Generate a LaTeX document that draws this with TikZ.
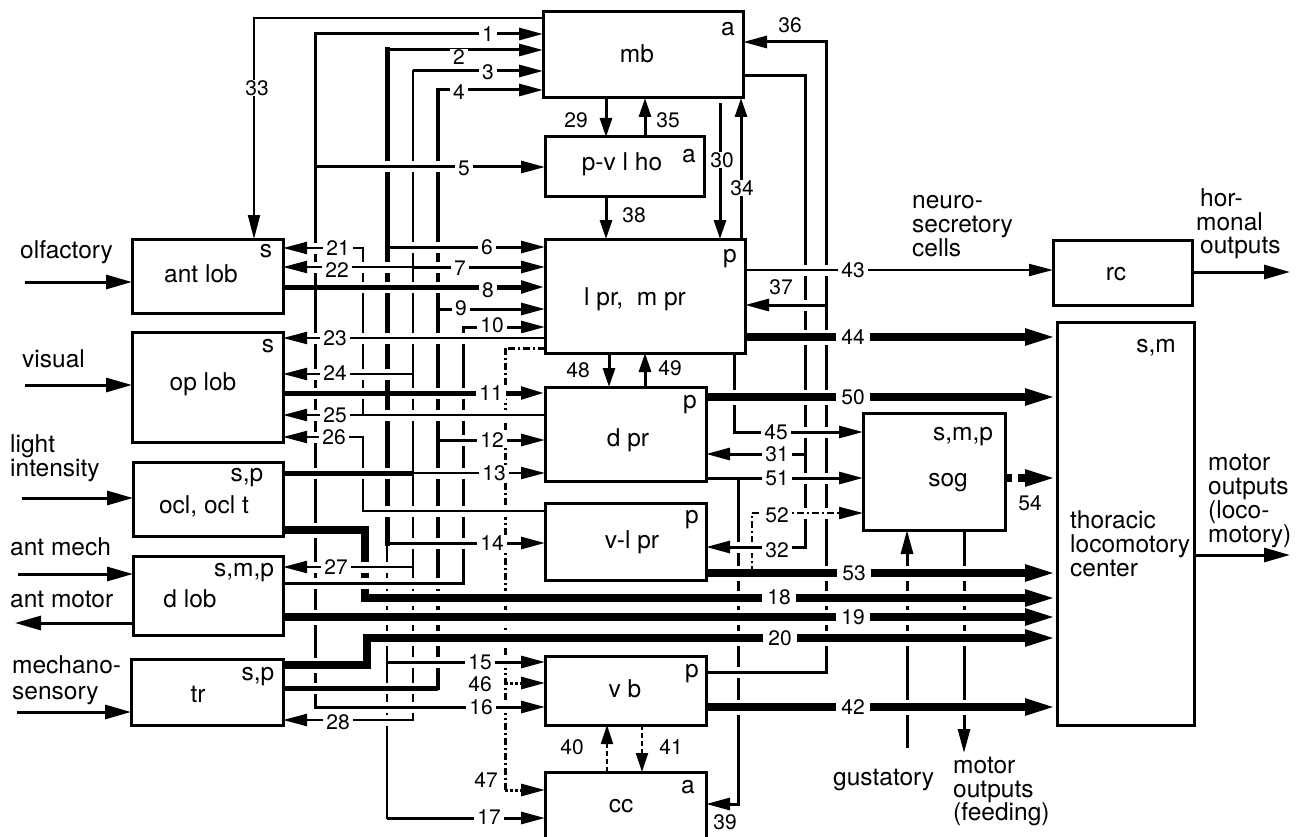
\documentclass[tikz,border=0pt]{standalone}
\usepackage{fontspec}
\setmainfont{TeX Gyre Heros}
\usetikzlibrary{arrows.meta}
\newcommand\txtf{\fontsize{24.5}{24}\selectfont}
\newcommand\numf{\fontsize{21}{21}\selectfont}
\newcommand\hl[3]{%
  \draw[white,line width=11pt,shorten <=6pt,shorten >=6pt] #2 -- #3;
  \draw[#1] #2 -- #3;}
\newcommand\hk[3]{%
  \draw[white,line width=15pt,shorten <=6pt,shorten >=6pt] #2 -- #3;
  \draw[#1] #2 -- #3;}
\begin{document}
\begin{tikzpicture}[x=1pt,y=-1pt,
 box/.style={draw,line width=3pt,anchor=north west,inner sep=0pt,outer sep=0pt},
 lt/.style={line width=2pt},
 lq/.style={line width=2.5pt},
 ln/.style={line width=3pt},
 lb/.style={line width=4pt},
 lm/.style={line width=5pt},
 lk/.style={line width=7.5pt},
 vv/.style={line cap=rect},
 ar/.style={-{Triangle[length=24pt,width=12pt]}},
 ai/.style={-{Triangle[length=26pt,width=14pt]}},
 as/.style={-{Triangle[length=19pt,width=12pt]}},
 ak/.style={-{Triangle[length=32pt,width=15pt]}},
 lab/.style={font=\numf,fill=white,inner xsep=3pt,inner ysep=0.5pt},
 labk/.style={font=\numf,fill=white,inner xsep=5pt,inner ysep=0.5pt},
 nl/.style={font=\numf,inner sep=0pt},
 tx/.style={font=\txtf,inner sep=0pt,anchor=base west},
 bt/.style={font=\txtf,inner sep=0pt,anchor=base},
 dd/.style={dash pattern=on 7pt off 3pt on 2pt off 3pt},
 ds/.style={dash pattern=on 5pt off 3pt},
 ]
\useasboundingbox (0,0) rectangle (1297,837);
\clip (0,0) rectangle (1297,837);

% ---------- boxes ----------
\node[box,minimum width=200pt,minimum height=86pt] (mb) at (543,12) {};
\node[box,minimum width=159pt,minimum height=59pt] (pvl) at (545,137) {};
\node[box,minimum width=200pt,minimum height=114pt] (lpr) at (545,239) {};
\node[box,minimum width=161pt,minimum height=94pt] (dpr) at (545,387) {};
\node[box,minimum width=161pt,minimum height=77pt] (vlpr) at (545,503) {};
\node[box,minimum width=161pt,minimum height=69pt] (vb) at (545,656) {};
\node[box,minimum width=161pt,minimum height=100pt] (cc) at (545,772) {};
\node[box,minimum width=151pt,minimum height=74pt] (al) at (132,239) {};
\node[box,minimum width=151pt,minimum height=110pt] (ol) at (132,332) {};
\node[box,minimum width=150pt,minimum height=74pt] (ocl) at (133,462) {};
\node[box,minimum width=150pt,minimum height=79pt] (dl) at (133,556) {};
\node[box,minimum width=152pt,minimum height=66pt] (tr) at (131,659) {};
\node[box,minimum width=139pt,minimum height=65pt] (rc) at (1053,240) {};
\node[box,minimum width=137pt,minimum height=403pt] (th) at (1057,322) {};
\node[box,minimum width=142pt,minimum height=117pt] (sog) at (863,413) {};

% ---------- vertical runs ----------
\draw[lt,ar] (mb.west|-0,18) -- (254,18) -- (al.north-|254,0);
\draw[ln,vv] (315,34) -- (315,707);
\draw[lm,vv] (387,50) -- (387,543);
\draw[lq,vv] (387,543) -- (387,818);
\draw[lq,vv] (413,71) -- (413,720);
\draw[lb,vv] (438,90) -- (438,688);
\draw[ln,vv] (463,327) -- (463,583);
\draw[lt,vv] (363,248) -- (363,415);
\draw[lt,vv] (363,437) -- (363,511);
\draw[lk,vv] (365,530) -- (365,598);
\draw[lk,vv] (367,638) -- (367,665);
\draw[ln,dd] (505,348) -- (505,790);

\draw[ln,as] (mb.south-|606,0) -- (pvl.north-|606,0);
\draw[ln,as] (pvl.north-|645,0) -- (mb.south-|645,0);
\draw[ln,as] (pvl.south-|606,0) -- (lpr.north-|606,0);
\draw[ln,as] (720,103) -- (lpr.north-|720,0);
\draw[ln,as] (lpr.north-|741,0) -- (mb.south-|741,0);
\draw[ln,as] (lpr.south-|609,0) -- (dpr.north-|609,0);
\draw[ln,as] (dpr.north-|645,0) -- (lpr.south-|645,0);

\draw[ln,vv] (805,76) -- (805,547);
\draw[ln,vv] (826,42) -- (826,672);
\draw[ln,vv] (lpr.south-|734,0) -- (734,432);
\draw[ln,vv] (738,478) -- (738,804);
\draw[lt,dd] (752,573) -- (752,513);
\coordinate (gus) at (907,748);
\coordinate (feed) at (964,753);
\draw[ln,ar] (gus) -- (sog.south-|gus);
\draw[ln,ar] (sog.south-|feed) -- (feed);
\draw[lt,ds,as] (cc.north-|607,0) -- (vb.south-|607,0);
\draw[lt,ds,as] (vb.south-|642,0) -- (cc.north-|642,0);

% ---------- horizontal runs (left) ----------
\hl{ln,ar}{(315,34)}{(mb.west|-0,34)}
\hl{ln,ar}{(387,50)}{(mb.west|-0,50)}
\hl{ln,ar}{(413,71)}{(mb.west|-0,71)}
\hl{ln,ar}{(438,90)}{(mb.west|-0,90)}
\hl{ln,ar}{(315,167)}{(pvl.west|-0,167)}
\hl{ln,ar}{(387,247)}{(lpr.west|-0,247)}
\hl{lt,ar}{(363,248)}{(al.east|-0,248)}
\hl{lt,ar}{(413,267)}{(al.east|-0,267)}
\hl{ln,ar}{(413,267)}{(lpr.west|-0,267)}
\hl{lm}{(al.east|-0,287)}{(315,287)}
\hl{lm,ar}{(315,287)}{(lpr.west|-0,287)}
\hl{ln,ar}{(438,309)}{(lpr.west|-0,309)}
\hl{ln,ar}{(463,327)}{(lpr.west|-0,327)}
\hl{lt,ar}{(lpr.west|-0,338)}{(ol.east|-0,338)}
\hl{ln,dd}{(lpr.west|-0,348)}{(505,348)}
\hl{lt,ar}{(413,374)}{(ol.east|-0,374)}
\hl{lm}{(ol.east|-0,393)}{(387,393)}
\hl{lm,ar}{(387,393)}{(dpr.west|-0,393)}
\hl{lt}{(dpr.west|-0,415)}{(363,415)}
\hl{lt,ar}{(363,415)}{(ol.east|-0,415)}
\hl{lt,ar}{(363,437)}{(ol.east|-0,437)}
\hl{ln,ar}{(438,440)}{(dpr.west|-0,440)}
\hl{lm}{(ocl.east|-0,473)}{(413,473)}
\hl{lt,ar}{(413,473)}{(dpr.west|-0,473)}
\hl{lt}{(vlpr.west|-0,511)}{(363,511)}
\hk{lk}{(ocl.east|-0,530)}{(365,530)}
\hl{ln,ar}{(387,543)}{(vlpr.west|-0,543)}
\hl{lt,ar}{(413,567)}{(dl.east|-0,567)}
\hl{ln}{(dl.east|-0,583)}{(463,583)}
\hk{lk,ak}{(365,598)}{(th.west|-0,598)}
\hk{lk,ak}{(dl.east|-0,617)}{(th.west|-0,617)}
\hk{lk,ak}{(367,638)}{(th.west|-0,638)}
\hl{ln,ar}{(387,662)}{(vb.west|-0,662)}
\hk{lk}{(tr.east|-0,665)}{(367,665)}
\hl{ln,ar,dotted}{(505,683)}{(vb.west|-0,683)}
\hl{lm}{(tr.east|-0,688)}{(438,688)}
\hl{ln,ar}{(315,707)}{(vb.west|-0,707)}
\hl{lt,ar}{(413,720)}{(tr.east|-0,720)}
\hl{ln,ar,dotted}{(505,790)}{(cc.west|-0,790)}
\hl{ln,ar}{(387,818)}{(cc.west|-0,818)}

% ---------- horizontal runs (right) ----------
\hl{ln,ar}{(826,42)}{(mb.east|-0,42)}
\hl{ln}{(mb.east|-0,76)}{(805,76)}
\hl{lt,ar}{(lpr.east|-0,270)}{(rc.west|-0,270)}
\hl{ln,ar}{(826,305)}{(lpr.east|-0,305)}
\hk{lk,ak}{(lpr.east|-0,337)}{(th.west|-0,337)}
\hk{lk,ak}{(dpr.east|-0,397)}{(th.west|-0,397)}
\hl{ln,ar}{(734,432)}{(sog.west|-0,432)}
\hl{ln,ar}{(805,454)}{(dpr.east|-0,454)}
\hl{ln}{(dpr.east|-0,478)}{(738,478)}
\hl{ln,ar}{(738,478)}{(sog.west|-0,478)}
\hl{lt,dd,ar}{(752,513)}{(sog.west|-0,513)}
\hl{ln,ar}{(805,547)}{(vlpr.east|-0,547)}
\hk{lk}{(vlpr.east|-0,573)}{(752,573)}
\hk{lk,ak}{(752,573)}{(th.west|-0,573)}
\hl{ln}{(vb.east|-0,672)}{(826,672)}
\hk{lk,ak}{(vb.east|-0,707)}{(th.west|-0,707)}
\hl{ln,ar}{(738,804)}{(cc.east|-0,804)}
\hk{lk,ak,dash pattern=on 7pt off 6pt}{(sog.east|-0,478)}{(th.west|-0,478)}
\coordinate (hout) at (1290,272);
\coordinate (mout) at (1290,555);
\hl{ln,ai}{(rc.east|-hout)}{(hout)}
\hl{ln,ai}{(th.east|-mout)}{(mout)}

% ---------- inputs ----------
\coordinate (iolf) at (25,282);
\coordinate (ivis) at (25,385);
\coordinate (ilig) at (22,498);
\coordinate (imec) at (18,574);
\coordinate (imot) at (15,623);
\coordinate (itr) at (17,712);
\hl{ln,ai}{(iolf)}{(al.west|-iolf)}
\hl{ln,ai}{(ivis)}{(ol.west|-ivis)}
\hl{ln,ai}{(ilig)}{(ocl.west|-ilig)}
\hl{ln,ai}{(imec)}{(dl.west|-imec)}
\hl{ln,ai}{(dl.west|-imot)}{(imot)}
\hl{ln,ai}{(itr)}{(tr.west|-itr)}

% ---------- number labels ----------
\node[lab] at (488,34) {1};
\node[lab] at (459,57) {2};
\node[lab] at (488,72) {3};
\node[lab] at (459,92) {4};
\node[lab] at (464,168) {5};
\node[lab] at (257,88) {33};
\node[lab] at (487,247) {6};
\node[lab] at (460,268) {7};
\node[lab] at (488,290) {8};
\node[lab] at (461,308) {9};
\node[lab] at (492,325) {10};
\node[lab] at (338,248) {21};
\node[lab] at (337,270) {22};
\node[lab] at (335,338) {23};
\node[lab] at (335,373) {24};
\node[lab] at (335,415) {25};
\node[lab] at (334,437) {26};
\node[lab] at (491,393) {11};
\node[lab] at (492,440) {12};
\node[lab] at (494,473) {13};
\node[lab] at (492,543) {14};
\node[lab] at (336,567) {27};
\node[lab] at (480,662) {15};
\node[nl] at (480,684) {46};
\node[lab] at (481,707) {16};
\node[lab] at (338,722) {28};
\node[nl] at (486,780) {47};
\node[lab] at (489,817) {17};
\node[nl] at (790,25) {36};
\node[nl] at (576,120) {29};
\node[nl] at (668,120) {35};
\node[lab] at (722,160) {30};
\node[lab] at (742,188) {34};
\node[nl] at (634,215) {38};
\node[lab] at (853,270) {43};
\node[nl] at (781,287) {37};
\node[labk] at (853,337) {44};
\node[nl] at (578,370) {48};
\node[nl] at (670,368) {49};
\node[labk] at (853,397) {50};
\node[lab] at (776,432) {45};
\node[lab] at (777,454) {31};
\node[lab] at (777,478) {51};
\node[lab] at (777,515) {52};
\node[lab] at (777,550) {32};
\node[labk] at (854,573) {53};
\node[labk] at (779,597) {18};
\node[labk] at (853,617) {19};
\node[labk] at (780,638) {20};
\node[labk] at (853,707) {42};
\node[nl] at (572,747) {40};
\node[nl] at (671,747) {41};
\node[nl] at (725,822) {39};
\node[nl] at (1030,503) {54};

% ---------- box texts ----------
\node[bt] at (637,63) {mb};
\node[bt] at (622,171) {p-v l ho};
\node[bt] at (635,305) {l pr,\ \ m pr};
\node[bt] at (628,446) {d pr};
\node[bt] at (632,548) {v-l pr};
\node[bt] at (625,697) {v b};
\node[bt] at (621,812) {cc};
\node[bt] at (201,282) {ant lob};
\node[bt] at (203,390) {op lob};
\node[bt] at (204,513) {ocl, ocl t};
\node[bt] at (190,607) {d lob};
\node[bt] at (198,702) {tr};
\node[bt] at (1116,280) {rc};
\node[bt] at (948,486) {sog};
\node[bt] at (728,36) {a};
\node[bt] at (689,163) {a};
\node[bt] at (730,262) {p};
\node[bt] at (690,408) {p};
\node[bt] at (692,523) {p};
\node[bt] at (692,677) {p};
\node[bt] at (688,793) {a};
\node[bt] at (266,257) {s};
\node[bt] at (268,352) {s};
\node[bt] at (247,481) {s,p};
\node[bt] at (244,576) {s,m,p};
\node[bt] at (258,680) {s,p};
\node[bt] at (1156,352) {s,m};
\node[bt] at (963,440) {s,m,p};

% ---------- side texts ----------
\node[tx] at (20,258) {olfactory};
\node[tx] at (22,367) {visual};
\node[tx] at (10,452) {light};
\node[tx] at (10,476) {intensity};
\node[tx] at (10,555) {ant mech};
\node[tx] at (10,607) {ant motor};
\node[tx] at (12,673) {mechano-};
\node[tx] at (12,699) {sensory};
\node[tx] at (912,208) {neuro-};
\node[tx] at (912,232) {secretory};
\node[tx] at (912,256) {cells};
\node[tx] at (1200,206) {hor-};
\node[tx] at (1196,230) {monal};
\node[tx] at (1200,253) {outputs};
\node[tx] at (1208,470) {motor};
\node[tx] at (1208,494) {outputs};
\node[tx] at (1208,518) {(loco-};
\node[tx] at (1208,542) {motory)};
\node[tx] at (1070,528) {thoracic};
\node[tx] at (1070,552) {locomotory};
\node[tx] at (1070,576) {center};
\node[tx] at (833,785) {gustatory};
\node[tx] at (953,773) {motor};
\node[tx] at (953,797) {outputs};
\node[tx] at (953,820) {(feeding)};
\end{tikzpicture}
\end{document}
